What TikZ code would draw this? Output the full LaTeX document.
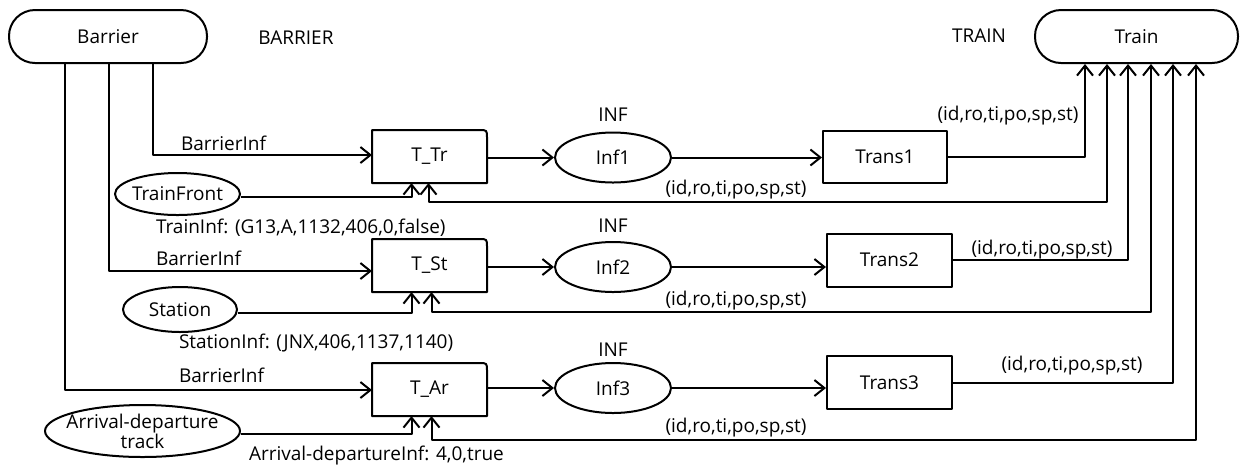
\documentclass[tikz,border=0pt]{standalone}
\usepackage{fontspec}
\setmainfont{Open Sans}
\usetikzlibrary{arrows.meta,shapes.geometric}
\begin{document}
\begin{tikzpicture}[x=0.5pt,y=-0.5pt,
  line width=1pt, line join=round,
  font=\fontsize{9.5}{11}\selectfont,
  arr/.style={-{Straight Barb[length=5pt,width=8pt]}},
  arrtwo/.style={{Straight Barb[length=5pt,width=8pt]}-{Straight Barb[length=5pt,width=8pt]}},
  place/.style={ellipse,draw,minimum width=58pt,minimum height=25pt,inner sep=0pt},
  trans/.style={rectangle,minimum width=57.5pt,minimum height=26.5pt,inner sep=0pt,outer sep=0pt},
  tbox/.style={rectangle,draw,minimum width=62.5pt,minimum height=26.5pt,inner sep=0pt},
  stadium/.style={rectangle,draw,rounded corners=13pt,minimum height=26.5pt,inner sep=0pt},
  lbl/.style={inner sep=0pt,anchor=west},
  clbl/.style={inner sep=0pt}
]
\useasboundingbox (0,0) rectangle (1242,468);

% top places
\node[stadium,minimum width=99pt] (barrier) at (108,36.5) {Barrier};
\node[stadium,minimum width=101.5pt] (train) at (1136.5,36.5) {Train};
\node[clbl] (bartxt) at (296,38) {BARRIER};
\node[clbl] (traintxt) at (979,36) {TRAIN};

% transitions
\node[trans] (ttr) at (429.5,156.5) {T\_Tr};
\node[trans] (tst) at (429.5,265.5) {T\_St};
\node[trans] (tar) at (429.5,389.5) {T\_Ar};
\foreach \n in {ttr,tst,tar}
  \draw (\n.south west) -- (\n.north west) -- ([xshift=-4pt]\n.north east)
        .. controls (\n.north east) .. ([yshift=-4pt]\n.north east)
        -- (\n.south east) -- cycle;

% INF places
\node[place] (inf1) at (613,157.5) {Inf1};
\node[place] (inf2) at (613,267) {Inf2};
\node[place] (inf3) at (613,388) {Inf3};
\node[clbl] (inft1) at (613,115) {INF};
\node[clbl] (inft2) at (613,226) {INF};
\node[clbl] (inft3) at (613,350) {INF};

% Trans boxes
\node[tbox,minimum width=62pt,minimum height=26pt] (tr1) at (885,157) {Trans1};
\node[tbox] (tr2) at (889.5,260) {Trans2};
\node[tbox] (tr3) at (889.5,382.5) {Trans3};

% side places
\node[place,minimum width=62.5pt,minimum height=21pt] (tf) at (177.5,194) {\makebox[0pt]{TrainFront}};
\node[place,minimum width=57pt,minimum height=22.5pt] (st) at (180,309.5) {Station};
\node[place,minimum width=97.5pt,minimum height=26pt,
  label={[align=center,inner sep=0pt,font=\fontsize{9.5}{10}\selectfont]center:Arrival-departure\\track}] (ad) at (142.5,431) {};

% helper coordinates
\coordinate (k1) at (153,155);
\coordinate (k2) at (109,271);
\coordinate (k3) at (65,390);
\coordinate (c1) at (1085,0);
\coordinate (c3) at (1128,0);
\coordinate (c5) at (1173,0);
\coordinate (r1) at (1107,202);
\coordinate (r2) at (1151,312);
\coordinate (r3) at (1196,440);

% Barrier -> transitions
\draw[arr] (barrier.south -| k1) |- (k1 -| ttr.west);
\draw[arr] (barrier.south -| k2) |- (k2 -| tst.west);
\draw[arr] (barrier.south -| k3) |- (k3 -| tar.west);

% transitions -> INF places -> Trans
\draw[arr] (inf1.west -| ttr.east) -- (inf1.west);
\draw[arr] (inf2.west -| tst.east) -- (inf2.west);
\draw[arr] (inf3.west -| tar.east) -- (inf3.west);
\draw[arr] (inf1.east) -- (inf1.east -| tr1.west);
\draw[arr] (inf2.east) -- (inf2.east -| tr2.west);
\draw[arr] (inf3.east) -- (inf3.east -| tr3.west);

% Trans -> Train
\draw[arr] (tr1.east) -| (train.south -| c1);
\draw[arr] (tr2.east) -| (train.south -| c3);
\draw[arr] (tr3.east) -| (train.south -| c5);

% Train <-> transitions
\draw[arrtwo] ([xshift=-0.5pt]ttr.south) |- (r1) -- (train.south -| r1);
\draw[arrtwo] ([xshift=1pt]tst.south) |- (r2) -- (train.south -| r2);
\draw[arrtwo] ([xshift=1pt]tar.south) |- (r3) -- (train.south -| r3);

% side places -> transitions
\draw[arr] ([yshift=-1.5pt]tf.east) -| ([xshift=-9pt]ttr.south);
\draw[arr] ([yshift=-1.5pt]st.east) -| ([xshift=-9pt]tst.south);
\draw[arr] ([yshift=-1.5pt]ad.east) -| ([xshift=-9pt]tar.south);

% inscriptions
\node[lbl] (l1) at (180,143) {BarrierInf};
\node[lbl] (l2) at (155,228) {TrainInf: (G13,A,1132,406,0,false)};
\node[lbl] (l3) at (155,258) {BarrierInf};
\node[lbl] (l4) at (178,343) {StationInf: (JNX,406,1137,1140)};
\node[lbl] (l5) at (178,375) {BarrierInf};
\node[lbl] (l6) at (248,455) {Arrival-departureInf: 4,0,true};
\node[clbl] (a1) at (1008,116) {(id,ro,ti,po,sp,st)};
\node[clbl] (a2) at (736,190) {(id,ro,ti,po,sp,st)};
\node[clbl] (a3) at (1042,250) {(id,ro,ti,po,sp,st)};
\node[clbl] (a4) at (736,301) {(id,ro,ti,po,sp,st)};
\node[clbl] (a5) at (1072,366) {(id,ro,ti,po,sp,st)};
\node[clbl] (a6) at (736,428) {(id,ro,ti,po,sp,st)};
\end{tikzpicture}
\end{document}
